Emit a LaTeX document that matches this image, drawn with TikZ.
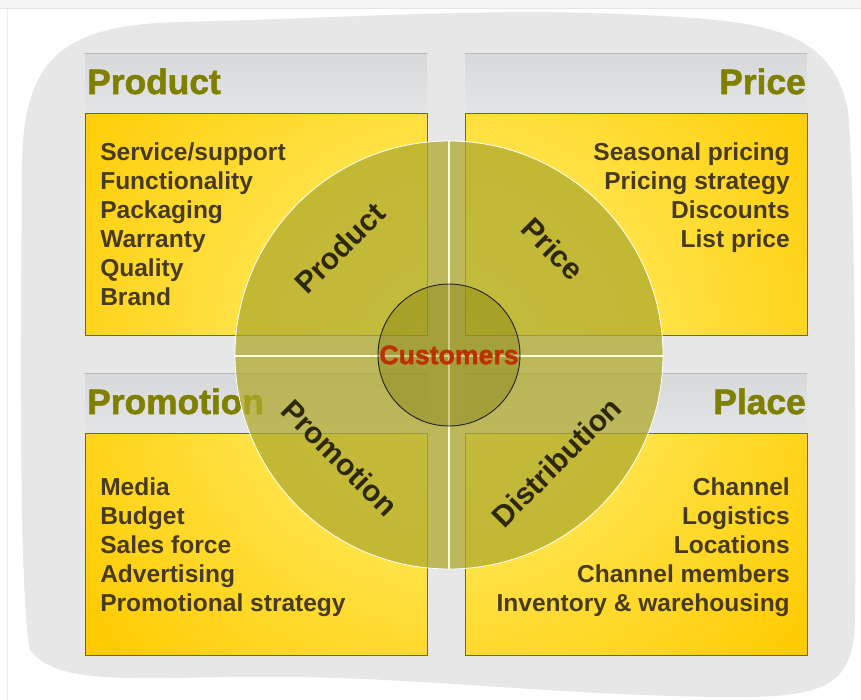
\documentclass[tikz,border=0pt]{standalone}
\usepackage{fontspec}
\setmainfont{Liberation Sans}
\newfontfamily\heavyfont{Liberation Sans Bold}[FakeBold=1.6]
\definecolor{blobgray}{RGB}{231,231,231}
\definecolor{headtop}{RGB}{214,216,218}
\definecolor{headbot}{RGB}{228,229,230}
\definecolor{yellowdark}{RGB}{255,203,0}
\definecolor{yellowlite}{RGB}{255,246,130}
\definecolor{boxedge}{RGB}{100,95,110}
\definecolor{headolive}{RGB}{128,128,0}
\definecolor{itembrown}{RGB}{72,58,30}
\definecolor{ringolive}{RGB}{176,170,45}
\definecolor{hubolive}{RGB}{120,115,0}
\definecolor{custred}{RGB}{190,48,0}
\definecolor{labeldark}{RGB}{45,40,10}
\begin{document}
\begin{tikzpicture}[x=0.75pt,y=-0.75pt,line join=round,line cap=round,
	headtxt/.style={text=headolive,font=\fontsize{26.5}{30}\heavyfont,inner sep=0pt},
	itemtxt/.style={text=itembrown,font=\fontsize{18.4}{22}\selectfont\bfseries,inner sep=0pt},
	ringtxt/.style={text=labeldark,font=\fontsize{22.5}{26}\selectfont\bfseries,inner sep=0pt}]
	\useasboundingbox (0,0) rectangle (861,700);
	\fill[white] (0,0) rectangle (861,700);
	\fill[gray!8] (0,0) rectangle (861,8);
	\draw[gray!20] (0,8) -- (861,8);
	\draw[gray!15] (7,9) -- (7,700);
	
	% background blob
	\fill[blobgray] (22,170) .. controls (22,60) and (60,25) .. (180,22)
		.. controls (350,18) and (480,8) .. (620,14)
		.. controls (760,20) and (830,25) .. (848,110)
		.. controls (856,200) and (856,500) .. (855,620)
		.. controls (854,690) and (820,698) .. (720,697)
		.. controls (560,695) and (450,680) .. (300,677)
		.. controls (150,675) and (60,690) .. (30,650)
		.. controls (20,600) and (20,400) .. cycle;
	
	% four quadrants
	\foreach \x in {85,465}
	\foreach \y in {53,373} {
		\shade[top color=headtop,bottom color=headbot] (\x,\y) rectangle ++(342,60);
		\draw[gray!55] (\x,\y) -- ++(342,0);
	}
	\begin{scope}
		\clip (85,113) rectangle ++(342,222) (465,113) rectangle ++(342,222)
			(85,433) rectangle ++(342,222) (465,433) rectangle ++(342,222);
		\fill[yellowdark] (85,113) rectangle (807,655);
		\shade[inner color=yellowlite,outer color=yellowdark] (449,355) circle (345pt);
	\end{scope}
	\foreach \x in {85,465}
	\foreach \y in {113,433}
		\draw[boxedge,line width=0.6pt] (\x,\y) rectangle ++(342,222);
	
	\node[headtxt,anchor=base west] (prodhead) at (87,94) {Product};
	\node[headtxt,anchor=base east] (pricehead) at (806,94) {Price};
	\node[headtxt,anchor=base west] (promohead) at (87,414) {Promotion};
	\node[headtxt,anchor=base east] (placehead) at (806,414) {Place};
	
	\foreach \t [count=\i] in {{Service/support},Functionality,Packaging,Warranty,Quality,Brand}
		\node[itemtxt,anchor=base west] (prod\i) at (100,131+29*\i) {\t};
	\foreach \t [count=\i] in {Seasonal pricing,Pricing strategy,Discounts,List price}
		\node[itemtxt,anchor=base east] (price\i) at (790,131+29*\i) {\t};
	\foreach \t [count=\i] in {Media,Budget,Sales force,Advertising,Promotional strategy}
		\node[itemtxt,anchor=base west] (promo\i) at (100,466+29*\i) {\t};
	\foreach \t [count=\i] in {Channel,Logistics,Locations,Channel members,Inventory \& warehousing}
		\node[itemtxt,anchor=base east] (place\i) at (790,466+29*\i) {\t};
	
	% ring and hub
	\fill[ringolive,fill opacity=0.75] (449,355) circle (160.5pt);
	\draw[white,line width=0.6pt] (449,355) circle (160.5pt);
	\draw[white!85!yellow,line width=1pt] (235,356) -- (663,356);
	\draw[white!85!yellow,line width=1pt] (449,141) -- (449,569);
	\fill[hubolive,fill opacity=0.35] (449,355) circle (53.25pt);
	\draw[black!85,line width=0.7pt] (449,355) circle (53.25pt);
	
	\node[text=custred,font=\fontsize{20}{24}\heavyfont,inner sep=0pt] (cust) at (449,355) {Customers};
	\node[ringtxt,rotate=45] (prodring) at (340,248) {Product};
	\node[ringtxt,rotate=-45] (pricering) at (553,249) {Price};
	\node[ringtxt,rotate=-45] (promoring) at (340,458) {Promotion};
	\node[ringtxt,rotate=45] (distring) at (556,462) {Distribution};
\end{tikzpicture}
\end{document}
